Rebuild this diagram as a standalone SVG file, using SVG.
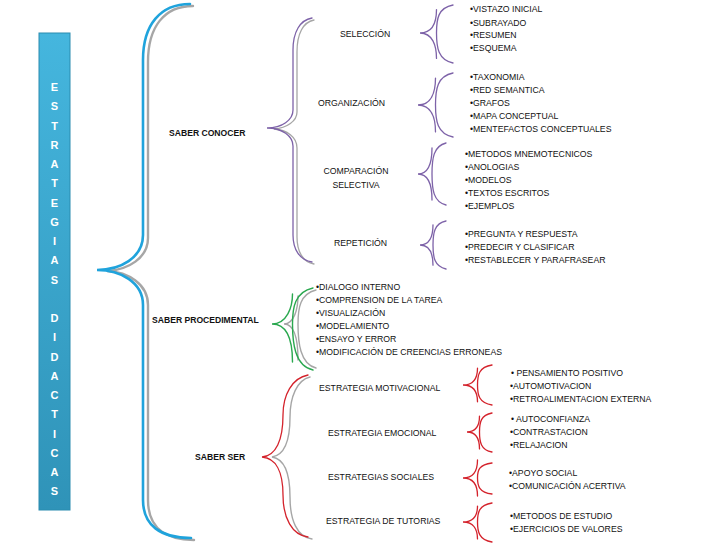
<svg xmlns="http://www.w3.org/2000/svg" width="728" height="546" viewBox="0 0 728 546">
<defs>
<linearGradient id="barg" x1="0" y1="0" x2="0" y2="1">
<stop offset="0" stop-color="#45b6de"/>
<stop offset="1" stop-color="#2f93b8"/>
</linearGradient>
</defs>
<style>
text{font-family:"Liberation Sans",Arial,sans-serif;font-size:8.7px;fill:#111}
.b{font-weight:bold;font-size:8.6px}
.bar{font-size:11px;font-weight:bold;fill:#fff;text-anchor:middle}
path{fill:none;stroke-linecap:round}
.blue{stroke:#1fa3dc;stroke-width:2.6}
.gray{stroke:#a6a6a6;stroke-width:2.4}
.pur{stroke:#7d62a8;stroke-width:1.3}
.gp{stroke:#a6a6a6;stroke-width:1.3}
.red{stroke:#d4222b;stroke-width:1.3}
.grn{stroke:#2aa84f;stroke-width:1.4}
.gg{stroke:#a6a6a6;stroke-width:1.4}
</style>
<rect width="728" height="546" fill="#fff"/>

<g id="connectors">
<!-- main brace -->
<path class="gray" d="M193,6 C164,6 148,27 148,62 L148,238 C148,258 128,270 107,271 C128,272 148,284 148,305 L148,500 C148,527 165,540 194,540"/>
<path class="blue" d="M190,4 C160,4 143,25 143,60 L143,235 C143,258 120,270 97,270 C120,270 143,282 143,305 L143,500 C143,525 160,538 191,538"/>
<!-- saber conocer brace -->
<path class="gp" d="M314,20 C303,22 297,34 297,52 L297,112 C297,121 287,128 274,129 C287,130 297,137 297,148 L297,237 C297,252 303,262 314,264"/>
<path class="pur" d="M312,18 C300,20 293,32 293,50 L293,110 C293,120 282,128 267,128 C282,128 293,136 293,146 L293,235 C293,250 300,260 312,262"/>
<!-- small purple braces -->
<path class="pur" d="M453,5 C438.2,7.9 436.5,18.5 436.5,33 C436.5,47.5 438.2,60.1 453,63"/>
<path class="pur" d="M436.5,9.6 C436.5,22.4 432.5,33 420,33 C432.5,33 436.5,45.6 436.5,58.4"/>
<path class="pur" d="M453,73 C437.3,76.2 435.5,89 435.5,105 C435.5,121 437.3,133.8 453,137"/>
<path class="pur" d="M435.5,78.1 C435.5,92.2 431.3,105 418,105 C431.3,105 435.5,117.8 435.5,131.9"/>
<path class="pur" d="M446,143 C433.4,146.1 432,158.5 432,174 C432,189.5 433.4,201.9 446,205"/>
<path class="pur" d="M432,148 C432,161.6 428.6,174 418,174 C428.6,174 432,186.4 432,200"/>
<path class="pur" d="M446,221 C434.3,223.4 433,233 433,245 C433,257 434.3,266.6 446,269"/>
<path class="pur" d="M433,224.8 C433,235.4 429.9,245 420,245 C429.9,245 433,254.6 433,265.2"/>
<!-- saber procedimental brace -->
<path class="gg" d="M316,290 C300,294 298,308 298,324 C298,342 300,364 316,368"/>
<path class="gg" d="M298,296 C298,309 294,324 284,324 C294,324 298,339 298,360"/>
<path class="grn" d="M313,288 C294.5,292 292.5,308 292.5,324 C292.5,342 294.5,366 313,370"/>
<path class="grn" d="M292.5,294 C292.5,307 287,324 272,324 C287,324 292.5,340 292.5,362"/>
<!-- saber ser brace -->
<path class="gray" style="stroke-width:1.4" d="M310,377 C297,380 290,397 290,417 C290,440 285,455 272,457 C285,459 290,474 290,497 C290,520 297,537 312,539"/>
<path class="red" d="M308,375 C292,378 283,395 283,415 C283,440 276,456 262,457 C276,458 283,472 283,495 C283,518 292,535 308,537"/>
<!-- small red braces -->
<path class="red" d="M492,365 C479,367 477.5,375 477.5,385 C477.5,395 479,403 492,405"/>
<path class="red" d="M477.5,368.2 C477.5,377 474,385 463,385 C474,385 477.5,393 477.5,401.8"/>
<path class="red" d="M492,413 C480.8,415 479.5,422.3 479.5,432 C479.5,441.8 480.8,450 492,452"/>
<path class="red" d="M479.5,416.1 C479.5,424.7 476.5,432 467,432 C476.5,432 479.5,440.3 479.5,448.9"/>
<path class="red" d="M492,463 C479,464.6 477.5,470.3 477.5,478 C477.5,485.8 479,492.5 492,494"/>
<path class="red" d="M477.5,460 C477.5,470 474,478 463,478 C474,478 477.5,486 477.5,496"/>
<path class="red" d="M492,503 C479,505 477.5,512.3 477.5,522 C477.5,531.8 479,540 492,542"/>
<path class="red" d="M477.5,506.1 C477.5,514.7 474,522 463,522 C474,522 477.5,530.3 477.5,538.9"/>
</g>

<g id="estrategias">
<rect x="39" y="33" width="31" height="477" fill="url(#barg)" stroke="#2b8cb0" stroke-width="1"/>
<text class="bar"><tspan x="54.5" y="91">E</tspan><tspan x="54.5" y="110.25">S</tspan><tspan x="54.5" y="129.5">T</tspan><tspan x="54.5" y="148.75">R</tspan><tspan x="54.5" y="168">A</tspan><tspan x="54.5" y="187.25">T</tspan><tspan x="54.5" y="206.5">E</tspan><tspan x="54.5" y="225.75">G</tspan><tspan x="54.5" y="245">I</tspan><tspan x="54.5" y="264.25">A</tspan><tspan x="54.5" y="283.5">S</tspan><tspan x="54.5" y="322">D</tspan><tspan x="54.5" y="341.25">I</tspan><tspan x="54.5" y="360.5">D</tspan><tspan x="54.5" y="379.75">A</tspan><tspan x="54.5" y="399">C</tspan><tspan x="54.5" y="418.25">T</tspan><tspan x="54.5" y="437.5">I</tspan><tspan x="54.5" y="456.75">C</tspan><tspan x="54.5" y="476">A</tspan><tspan x="54.5" y="495.25">S</tspan></text>
</g>

<g id="saber-conocer"><text class="b" x="169" y="136">SABER CONOCER</text></g>
<g id="saber-procedimental"><text class="b" x="152" y="323">SABER PROCEDIMENTAL</text></g>
<g id="saber-ser"><text class="b" x="195" y="460">SABER SER</text></g>

<g id="seleccion"><text x="340" y="37">SELECCIÓN</text></g>
<g id="organizacion"><text x="318" y="106">ORGANIZACIÓN</text></g>
<g id="comparacion"><text x="356" y="174" text-anchor="middle">COMPARACIÓN</text><text x="356" y="188" text-anchor="middle">SELECTIVA</text></g>
<g id="repeticion"><text x="334" y="246">REPETICIÓN</text></g>

<g id="items-seleccion">
<text x="470" y="12.3">•VISTAZO INICIAL</text>
<text x="470" y="25.5">•SUBRAYADO</text>
<text x="470" y="38">•RESUMEN</text>
<text x="470" y="50.5">•ESQUEMA</text>
</g>
<g id="items-organizacion">
<text x="470" y="80">•TAXONOMIA</text>
<text x="470" y="93">•RED SEMANTICA</text>
<text x="470" y="106">•GRAFOS</text>
<text x="470" y="119">•MAPA CONCEPTUAL</text>
<text x="470" y="131.5">•MENTEFACTOS CONCEPTUALES</text>
</g>
<g id="items-comparacion">
<text x="465" y="157">•METODOS MNEMOTECNICOS</text>
<text x="465" y="170">•ANOLOGIAS</text>
<text x="465" y="183">•MODELOS</text>
<text x="465" y="196">•TEXTOS ESCRITOS</text>
<text x="465" y="208.5">•EJEMPLOS</text>
</g>
<g id="items-repeticion">
<text x="465" y="237">•PREGUNTA Y RESPUESTA</text>
<text x="465" y="250">•PREDECIR Y CLASIFICAR</text>
<text x="465" y="263">•RESTABLECER Y PARAFRASEAR</text>
</g>

<g id="items-procedimental">
<text x="316" y="290">•DIALOGO INTERNO</text>
<text x="316" y="303">•COMPRENSION DE LA TAREA</text>
<text x="316" y="315.5">•VISUALIZACIÓN</text>
<text x="316" y="328.5">•MODELAMIENTO</text>
<text x="316" y="341.5">•ENSAYO Y ERROR</text>
<text x="316" y="354.5">•MODIFICACIÓN DE CREENCIAS ERRONEAS</text>
</g>

<g id="motivacional"><text x="319" y="391">ESTRATEGIA MOTIVACIONAL</text></g>
<g id="emocional"><text x="328" y="436">ESTRATEGIA EMOCIONAL</text></g>
<g id="sociales"><text x="328" y="480">ESTRATEGIAS SOCIALES</text></g>
<g id="tutorias"><text x="326" y="524">ESTRATEGIA DE TUTORIAS</text></g>

<g id="items-motivacional">
<text x="511" y="376">• PENSAMIENTO POSITIVO</text>
<text x="510" y="388.5">•AUTOMOTIVACION</text>
<text x="510" y="401.5">•RETROALIMENTACION EXTERNA</text>
</g>
<g id="items-emocional">
<text x="511" y="422">• AUTOCONFIANZA</text>
<text x="510" y="435">•CONTRASTACION</text>
<text x="510" y="448">•RELAJACION</text>
</g>
<g id="items-sociales">
<text x="509" y="476">•APOYO SOCIAL</text>
<text x="509" y="489">•COMUNICACIÓN ACERTIVA</text>
</g>
<g id="items-tutorias">
<text x="510" y="519">•METODOS DE ESTUDIO</text>
<text x="510" y="532">•EJERCICIOS DE VALORES</text>
</g>
</svg>
